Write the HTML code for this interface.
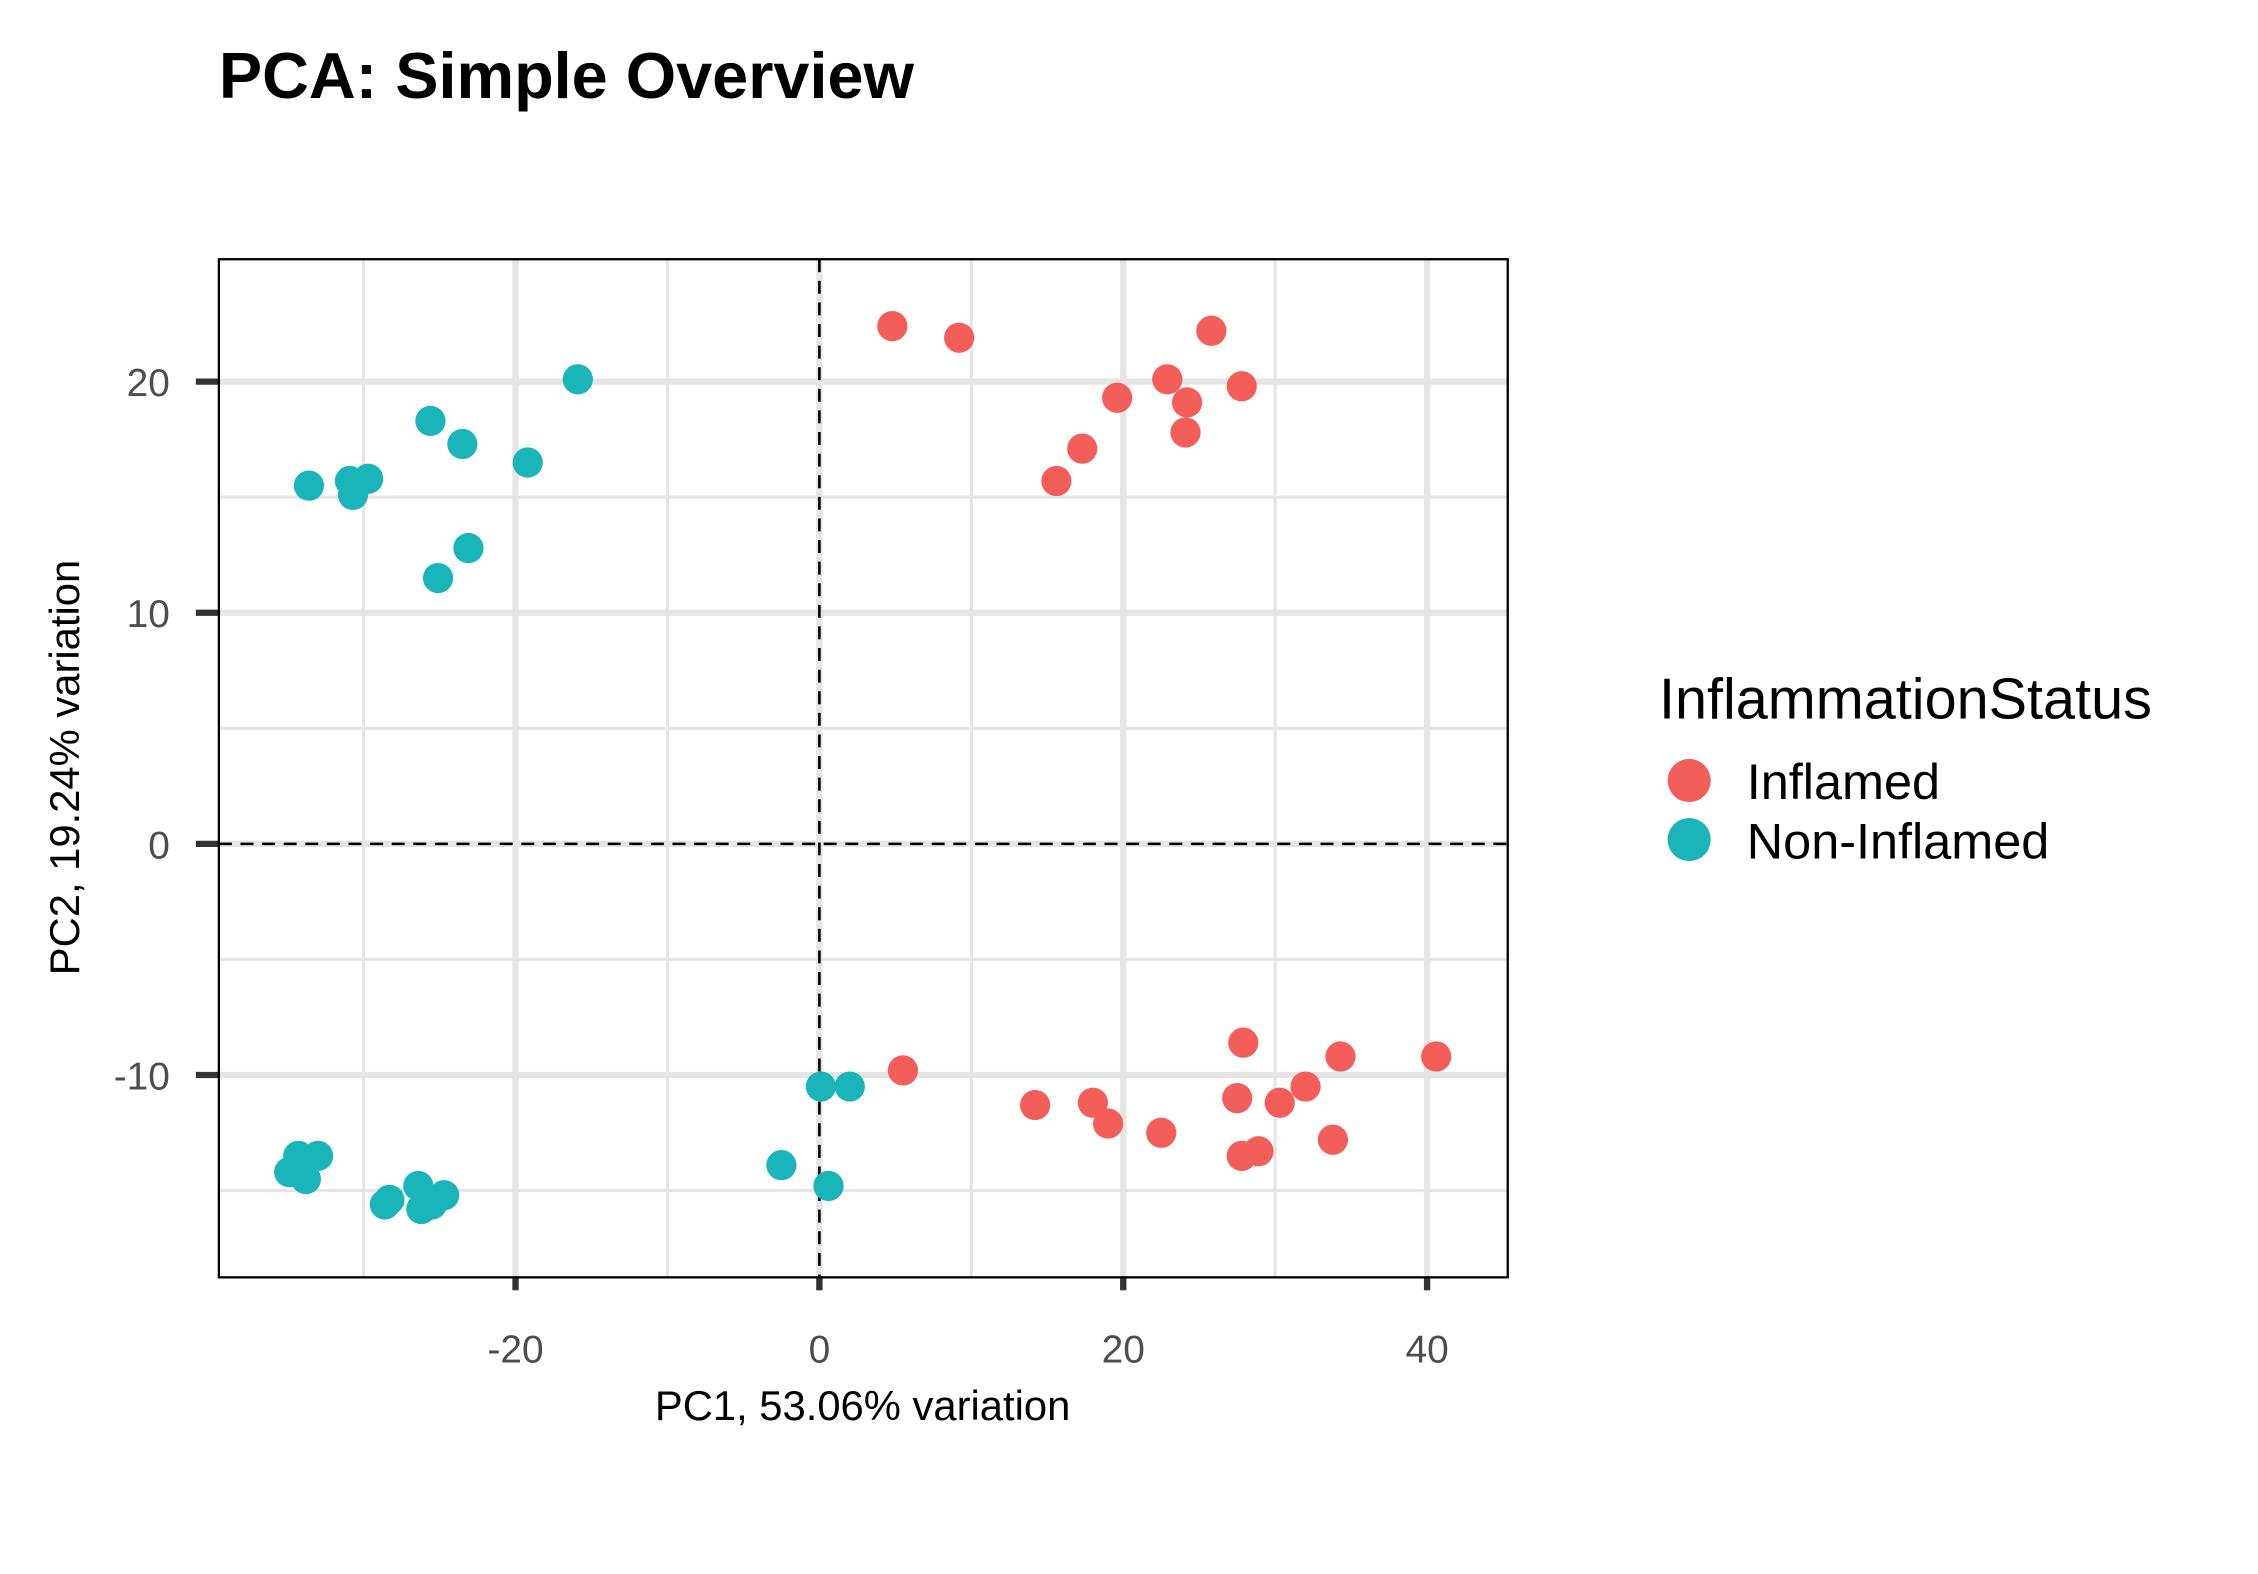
<!DOCTYPE html>
<html><head><meta charset="utf-8"><style>
html,body{margin:0;padding:0;background:#fff;}
svg{display:block;font-family:"Liberation Sans",Arial,sans-serif;}
</style></head><body>
<svg id="chart" width="2258" height="1574" viewBox="0 0 1568 1093" xmlns="http://www.w3.org/2000/svg">
<rect width="1568" height="1093" fill="#fff"/>
<text x="152" y="68" font-size="45" font-weight="bold">PCA: Simple Overview</text>
<g id="grid"></g>
<g id="axes"></g>
<g id="points"></g>
<rect x="152" y="180" width="895" height="707" fill="none" stroke="#000" stroke-width="1.6"/>
<text x="599" y="986" font-size="29" text-anchor="middle">PC1, 53.06% variation</text>
<text transform="translate(55,533) rotate(-90)" font-size="29" text-anchor="middle">PC2, 19.24% variation</text>
<g>
<text x="1152" y="499" font-size="40">InflammationStatus</text>
<g><circle cx="1173" cy="542" r="15" fill="#F35E5A"/><text x="1213" y="555" font-size="35">Inflamed</text></g>
<g><circle cx="1173" cy="583" r="15" fill="#19B5B9"/><text x="1213" y="596" font-size="35">Non-Inflamed</text></g>
</g>
</svg>
<script>
const xTicks=[-20,0,20,40];
const xMinor=[-30,-10,10,30];
const yTicks=[-10,0,10,20];
const yMinor=[-15,-5,5,15];
const inflamedX=[4.8,9.2,25.8,22.9,27.8,19.6,24.2,24.1,17.3,15.6,5.5,14.2,18.0,19.0,22.5,27.9,34.3,40.6,27.5,30.3,32.0,27.8,28.9,33.8];
const inflamedY=[22.4,21.9,22.2,20.1,19.8,19.3,19.1,17.8,17.1,15.7,-9.8,-11.3,-11.2,-12.1,-12.5,-8.6,-9.2,-9.2,-11.0,-11.2,-10.5,-13.5,-13.3,-12.8];
const nonInflamedX=[-15.9,-25.6,-23.5,-19.2,-33.6,-30.9,-29.7,-30.7,-23.1,-25.1,0.1,2.0,-2.5,0.6,-34.3,-33.0,-34.9,-33.8,-26.4,-24.7,-28.3,-28.6,-26.2,-25.5];
const nonInflamedY=[20.1,18.3,17.3,16.5,15.5,15.7,15.8,15.1,12.8,11.5,-10.5,-10.5,-13.9,-14.8,-13.5,-13.5,-14.2,-14.5,-14.8,-15.2,-15.4,-15.6,-15.8,-15.6];

const L=152,R=1047,T=180,B=887;
const sx=v=>569+v*10.55;
const sy=v=>586-v*16.05;
const NS="http://www.w3.org/2000/svg";
function mk(tag,parent,attrs){const e=document.createElementNS(NS,tag);for(const k in attrs)e.setAttribute(k,attrs[k]);parent.appendChild(e);return e;}
const grid=document.getElementById('grid'),axes=document.getElementById('axes'),pts=document.getElementById('points');
xMinor.forEach(v=>{const l=mk('line',grid,{x1:sx(v),x2:sx(v),y1:T,y2:B,stroke:'#e5e5e5','stroke-width':2.2});

});
yMinor.forEach(v=>{const l=mk('line',grid,{x1:L,x2:R,y1:sy(v),y2:sy(v),stroke:'#e5e5e5','stroke-width':2.2});

});
xTicks.forEach(v=>{const l=mk('line',grid,{x1:sx(v),x2:sx(v),y1:T,y2:B,stroke:'#e5e5e5','stroke-width':4.4});


const t=mk('line',axes,{x1:sx(v),x2:sx(v),y1:B,y2:B+9,stroke:'#333','stroke-width':4.4});


const tx=mk('text',axes,{x:sx(v),y:B+59,'font-size':27,fill:'#4d4d4d','text-anchor':'middle'});tx.textContent=v;

});
yTicks.forEach(v=>{const l=mk('line',grid,{x1:L,x2:R,y1:sy(v),y2:sy(v),stroke:'#e5e5e5','stroke-width':4.4});


const t=mk('line',axes,{x1:L-16,x2:L,y1:sy(v),y2:sy(v),stroke:'#333','stroke-width':4.4});


const tx=mk('text',axes,{x:L-34,y:sy(v)+10,'font-size':27,fill:'#4d4d4d','text-anchor':'end'});tx.textContent=v;

});
const vz=mk('line',axes,{x1:sx(0),x2:sx(0),y1:T,y2:B,stroke:'#000','stroke-width':1.8,'stroke-dasharray':'9,6'});


const hz=mk('line',axes,{x1:L,x2:R,y1:sy(0),y2:sy(0),stroke:'#000','stroke-width':1.8,'stroke-dasharray':'9,6'});


inflamedX.forEach((x,i)=>{const c=mk('circle',pts,{cx:sx(x),cy:sy(inflamedY[i]),r:10.5,fill:'#F35E5A'});

});
nonInflamedX.forEach((x,i)=>{const c=mk('circle',pts,{cx:sx(x),cy:sy(nonInflamedY[i]),r:10.5,fill:'#19B5B9'});

});
</script>
</body></html>
